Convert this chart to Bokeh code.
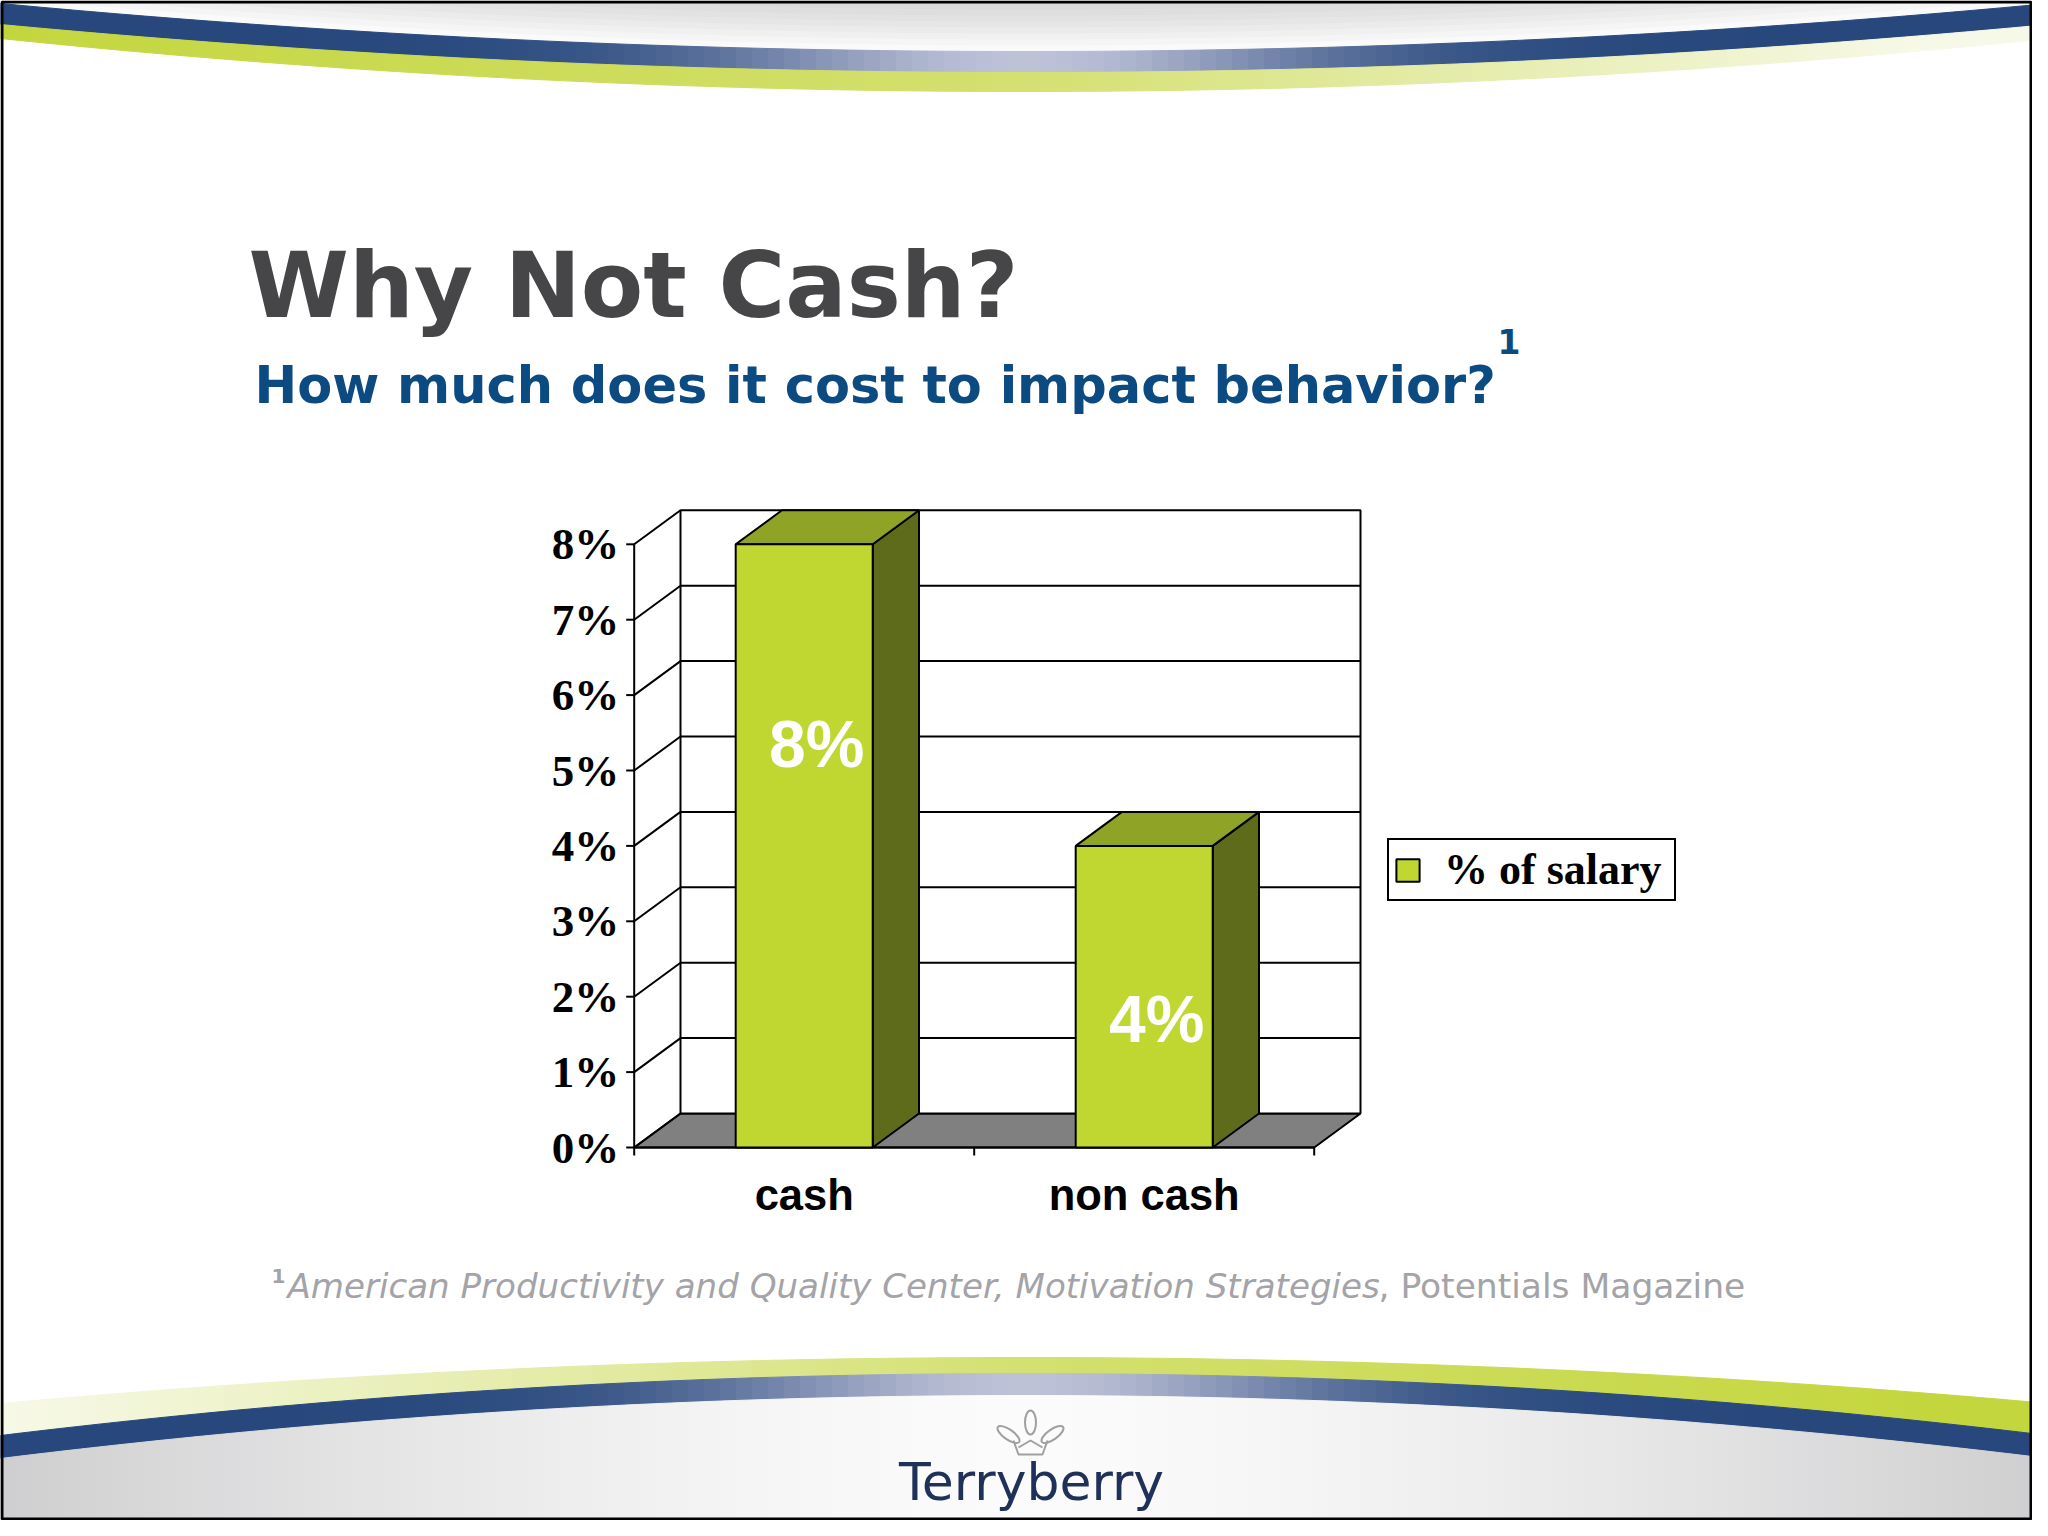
import numpy as np
from bokeh.plotting import figure
from bokeh.models import Range1d, Legend, LegendItem
from bokeh.core.properties import value
from bokeh.embed import file_html
from bokeh.resources import INLINE

# ---------------- data ----------------
categories = ["cash", "non cash"]
values = [8, 4]
series_name = "% of salary"
y_ticks = [0, 1, 2, 3, 4, 5, 6, 7, 8]
y_tick_labels = ["0%", "1%", "2%", "3%", "4%", "5%", "6%", "7%", "8%"]
value_labels = ["8%", "4%"]
title_text = "Why Not Cash?"
subtitle_text = "How much does it cost to impact behavior?"
footnote_mark = "1"
footnote_italic = "American Productivity and Quality Center, Motivation Strategies"
footnote_plain = ", Potentials Magazine"
logo_text = "Terryberry"

# ---------------- layout ----------------
W, H = 2032, 1520


def fs(px):
    return f"{px:.1f}px"


# chart front plane in page pixels
X0, Y0 = 633.7, 1147.0
CAT_PX, PCT_PX = 340.0, 75.4
DX, DY = 46.3 / CAT_PX, 34.0 / PCT_PX
n = len(categories)
ymax = y_ticks[-1]

p = figure(width=W, height=H, title=None,
           x_range=Range1d(-X0 / CAT_PX, (W - X0) / CAT_PX),
           y_range=Range1d(-(H - Y0) / PCT_PX, Y0 / PCT_PX),
           x_axis_location=None, y_axis_location=None,
           output_backend="svg", toolbar_location=None, min_border=0,
           background_fill_color="white", border_fill_color="white",
           outline_line_color=None)
p.grid.visible = False
p.extra_x_ranges = {"px": Range1d(0, W)}
p.extra_y_ranges = {"px": Range1d(H, 0)}
PX = dict(x_range_name="px", y_range_name="px")

# ---------------- slide decoration ----------------
REF_W = 2048
xs = np.linspace(0, REF_W, 129)
t = (xs - REF_W / 2) / (REF_W / 2)
xm = (xs[:-1] + xs[1:]) / 2
tm = (xm - REF_W / 2) / (REF_W / 2)


def mix(c1, c2, w):
    w = min(max(w, 0.0), 1.0)
    return "#%02x%02x%02x" % tuple(int(round(a + (b - a) * w)) for a, b in zip(c1, c2))


def band(top, bot, colors):
    bx, by = [], []
    for i in range(len(xs) - 1):
        bx.append([xs[i], xs[i + 1], xs[i + 1], xs[i]])
        by.append([top[i], top[i + 1], bot[i + 1], bot[i]])
    p.patches(bx, by, fill_color=colors, line_color=colors, line_width=1, **PX)


# top swoosh
tb_top = 51 - 48 * t ** 2
tb_bot = 72 - 48 * t ** 2
tg_bot = 91 - 53 * t ** 2
for k in range(8):
    ys = np.maximum(tb_top - k * 6, 0)
    p.patch(list(np.r_[0, xs, REF_W]), list(np.r_[0, ys, 0]),
            fill_color="#8a8a8a", fill_alpha=0.045, line_color=None, **PX)
blue_dark, blue_light = (40, 72, 125), (198, 200, 220)
band(tb_top, tb_bot, [mix(blue_dark, blue_light, 0.95 * np.exp(-((x - 1024) / 300.0) ** 2)) for x in xm])
g_strong, g_mid, g_pale = (196, 214, 62), (212, 224, 112), (247, 249, 232)
band(tb_bot, tg_bot, [mix(g_strong, g_mid, x / 1024) if x < 1024 else mix(g_mid, g_pale, (x - 1024) / 900)
                      for x in xm])

# bottom swoosh
bg_top = 1357 + 46 * t ** 2
bb_top = 1373 + 62 * t ** 2
bb_bot = 1395 + 63 * t ** 2
band(bg_top, bb_top, [mix(g_pale, g_mid, x / 1024) if x < 1024 else mix(g_mid, g_strong, (x - 1024) / 900)
                      for x in xm])
band(bb_top, bb_bot, [mix(blue_dark, blue_light, 0.95 * np.exp(-((x - 1024) / 300.0) ** 2)) for x in xm])
band(bb_bot, np.full_like(xs, H + 20), [mix((251, 251, 251), (206, 206, 208), abs(tt) ** 1.5) for tt in tm])

# logo
GR = "#a0a0a0"
p.ellipse(x=[1030], y=[1422], width=11, height=24, fill_color=None, line_color=GR, line_width=2, **PX)
p.ellipse(x=[1008, 1052], y=[1434, 1434], width=26, height=10, angle=[-35, 35], angle_units="deg",
          fill_color=None, line_color=GR, line_width=2, **PX)
p.line(x=[1013, 1018, 1042, 1047], y=[1440, 1454, 1454, 1440], line_color=GR, line_width=2, **PX)
p.line(x=[1018, 1030, 1042], y=[1447, 1440, 1447], line_color=GR, line_width=2, **PX)
p.text(x=[1031], y=[1481], text=[logo_text], text_font=value("DejaVu Sans"), text_font_size=fs(52),
       text_color="#1f3159", text_align="center", text_baseline="middle", **PX)

# slide border
p.patch([1.5, W - 1.5, W - 1.5, 1.5], [1.5, 1.5, H - 1.5, H - 1.5], fill_alpha=0,
        line_color="black", line_width=3, **PX)

# ---------------- titles ----------------
p.text(x=[248], y=[285], text=[title_text], text_font=value("DejaVu Sans"), text_font_style="bold",
       text_font_size=fs(91), text_color="#464548", text_baseline="middle", **PX)
p.text(x=[254], y=[385], text=[subtitle_text], text_font=value("DejaVu Sans"), text_font_style="bold",
       text_font_size=fs(51), text_color="#0c4a82", text_baseline="middle", **PX)
p.text(x=[1497], y=[341], text=[footnote_mark], text_font=value("DejaVu Sans"), text_font_style="bold",
       text_font_size=fs(33), text_color="#0c4a82", text_baseline="middle", **PX)

# footnote
p.text(x=[271], y=[1275], text=[footnote_mark], text_font=value("DejaVu Sans"), text_font_style="bold",
       text_font_size=fs(20), text_color="#a3a3a8", text_baseline="middle", **PX)
p.text(x=[287], y=[1285], text=[footnote_italic], text_font=value("DejaVu Sans"), text_font_style="italic",
       text_font_size=fs(34.1), text_color="#a3a3a8", text_baseline="middle", **PX)
p.text(x=[1378], y=[1285], text=[footnote_plain], text_font=value("DejaVu Sans"),
       text_font_size=fs(34.5), text_color="#a3a3a8", text_baseline="middle", **PX)

# ---------------- 3-D column chart ----------------
LW = 2
# floor
p.patch([0, n, n + DX, DX], [0, 0, DY, DY], fill_color="#808080", line_color="black", line_width=LW)
# back wall
p.quad(left=[DX], right=[n + DX], bottom=[DY], top=[ymax + DY], fill_color="white",
       line_color="black", line_width=LW)
inner = [k for k in y_ticks if 0 < k < ymax]
p.segment(x0=[DX] * len(inner), x1=[n + DX] * len(inner), y0=[k + DY for k in inner],
          y1=[k + DY for k in inner], line_color="black", line_width=LW)
# side wall diagonals and front axis
p.segment(x0=[0] * len(y_ticks), y0=y_ticks, x1=[DX] * len(y_ticks), y1=[k + DY for k in y_ticks],
          line_color="black", line_width=LW)
p.segment(x0=[0], y0=[0], x1=[0], y1=[ymax], line_color="black", line_width=LW)
tick_x = 8.0 / CAT_PX
tick_y = 8.0 / PCT_PX
p.segment(x0=[-tick_x] * len(y_ticks), y0=y_ticks, x1=[0] * len(y_ticks), y1=y_ticks,
          line_color="black", line_width=LW)
p.segment(x0=[0, n], y0=[0, 0], x1=[n, n], y1=[0, 0], line_color="black", line_width=LW)
p.segment(x0=list(range(n + 1)), y0=[0] * (n + 1), x1=list(range(n + 1)), y1=[-tick_y] * (n + 1),
          line_color="black", line_width=LW)

# bars
HW = 0.2015
centers = [i + 0.5 for i in range(n)]
lefts = [c - HW for c in centers]
rights = [c + HW for c in centers]
tops_x = [[l, r, r + DX, l + DX] for l, r in zip(lefts, rights)]
tops_y = [[v, v, v + DY, v + DY] for v in values]
side_x = [[r, r + DX, r + DX, r] for r in rights]
side_y = [[0, DY, v + DY, v] for v in values]
p.patches(side_x, side_y, fill_color="#5e6b1a", line_color="black", line_width=LW)
p.patches(tops_x, tops_y, fill_color="#8fa326", line_color="black", line_width=LW)
front = p.quad(left=lefts, right=rights, bottom=[0] * n, top=values, fill_color="#bfd730",
               line_color="black", line_width=LW)

# value labels inside bars
p.text(x=[c + 0.037 for c in centers], y=[v * 0.91 - 1.93 for v in values], text=value_labels,
       text_font=value("Liberation Sans"), text_font_style="bold", text_font_size=fs(66),
       text_color="white", text_align="center", text_baseline="middle")

# axis tick labels
p.text(x=[-15.0 / CAT_PX] * len(y_ticks), y=y_ticks, text=y_tick_labels,
       text_font=value("Liberation Serif"), text_font_style="bold", text_font_size=fs(45),
       text_color="black", text_align="right", text_baseline="middle")
p.text(x=centers, y=[-47.0 / PCT_PX] * n, text=categories,
       text_font=value("Liberation Sans"), text_font_style="bold", text_font_size=fs(43.5),
       text_color="black", text_align="center", text_baseline="middle")

# legend
legend = Legend(items=[LegendItem(label=series_name, renderers=[front])],
                location=(1387, H - 901), orientation="vertical",
                border_line_color="black", border_line_width=2, border_line_alpha=1.0,
                background_fill_color="white", background_fill_alpha=1.0,
                label_text_font="Liberation Serif", label_text_font_style="bold",
                label_text_font_size=fs(44), label_text_color="black",
                label_text_line_height=1.0,
                glyph_width=29, glyph_height=28, label_width=226,
                padding=4, label_standoff=22, spacing=0, margin=0)
p.add_layout(legend)

open("out.html", "w").write(file_html(p, INLINE))
